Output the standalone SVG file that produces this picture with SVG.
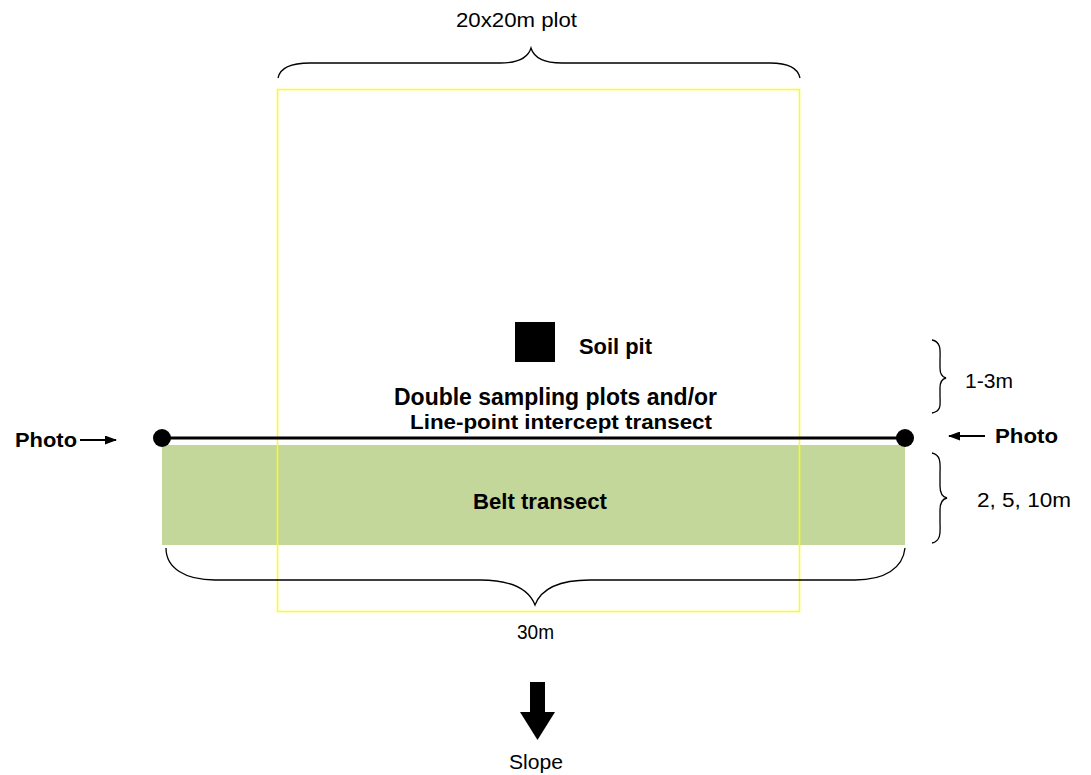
<svg xmlns="http://www.w3.org/2000/svg" width="1091" height="775" viewBox="0 0 1091 775">
<style>
text{font-family:"Liberation Sans",Arial,sans-serif;fill:#000}
.b{font-weight:bold}
.brace{fill:none;stroke:#000;stroke-width:1.3}
</style>
<defs>
<marker id="ah" markerWidth="12" markerHeight="9" refX="11" refY="4.5" orient="auto" markerUnits="userSpaceOnUse">
<path d="M0,0 L12,4.5 L0,9 Z" fill="#000"/>
</marker>
</defs>
<rect width="1091" height="775" fill="#fff"/>
<g id="belt">
<rect x="162" y="445" width="743" height="100" fill="#c4d79b"/>
<text class="b" x="473" y="509" font-size="22" textLength="134" lengthAdjust="spacingAndGlyphs">Belt transect</text>
</g>
<g id="plot">
<rect x="277.5" y="89.5" width="522" height="522" fill="none" stroke="#ffff00" stroke-width="1.5"/>
<text x="456" y="27" font-size="21" textLength="121" lengthAdjust="spacingAndGlyphs">20x20m plot</text>
</g>
<g id="soilpit">
<rect x="515" y="322" width="40" height="40" fill="#000"/>
<text class="b" x="579" y="354" font-size="22" textLength="73" lengthAdjust="spacingAndGlyphs">Soil pit</text>
</g>
<g id="transect">
<line x1="162" y1="438" x2="905" y2="438" stroke="#000" stroke-width="3"/>
<circle cx="162" cy="438" r="9" fill="#000"/>
<circle cx="905" cy="438" r="9" fill="#000"/>
<text class="b" x="394" y="405" font-size="23" textLength="323" lengthAdjust="spacingAndGlyphs">Double sampling plots and/or</text>
<text class="b" x="410" y="429" font-size="21" textLength="302" lengthAdjust="spacingAndGlyphs">Line-point intercept transect</text>
</g>
<g id="photo-left">
<text class="b" x="15" y="447" font-size="21" textLength="62" lengthAdjust="spacingAndGlyphs">Photo</text>
</g>
<g id="photo-right">
<text class="b" x="995" y="443" font-size="21" textLength="63" lengthAdjust="spacingAndGlyphs">Photo</text>
</g>
<g id="label-13m">
<text x="965" y="388" font-size="20" textLength="48" lengthAdjust="spacingAndGlyphs">1-3m</text>
</g>
<g id="label-2510m">
<text x="977" y="507" font-size="20" textLength="94" lengthAdjust="spacingAndGlyphs">2, 5, 10m</text>
</g>
<g id="label-30m">
<text x="517" y="639" font-size="20" textLength="37" lengthAdjust="spacingAndGlyphs">30m</text>
</g>
<g id="slope">
<path d="M530,682 H545 V712 H555 L537.5,740 L520,712 H530 Z" fill="#000"/>
<text x="509" y="769" font-size="20" textLength="54" lengthAdjust="spacingAndGlyphs">Slope</text>
</g>
<g id="connectors">
<line x1="80" y1="440" x2="116" y2="440" stroke="#000" stroke-width="2" marker-end="url(#ah)"/>
<line x1="985" y1="436" x2="949" y2="436" stroke="#000" stroke-width="2" marker-end="url(#ah)"/>
<path class="brace" d="M278,78 C280,68 292,63 310,63 H500 C518,63 528,58 531,48 C534,58 544,63 562,63 H770 C788,63 798,68 800,78"/>
<path class="brace" d="M166,548 C166,568 185,580 215,580 H480 C515,580 530,592 535,605 C540,592 555,580 590,580 H855 C885,580 903,568 905,548"/>
<path class="brace" d="M932,340 C942,342 940,352 940,360 V368 C940,374 942,377 946,378 C942,379 940,382 940,388 V396 C940,404 942,411 932,413"/>
<path class="brace" d="M932,453 C942,455 940,466 940,474 V486 C940,493 942,497 947,498 C942,499 940,503 940,510 V522 C940,530 942,541 932,543"/>
</g>
</svg>
